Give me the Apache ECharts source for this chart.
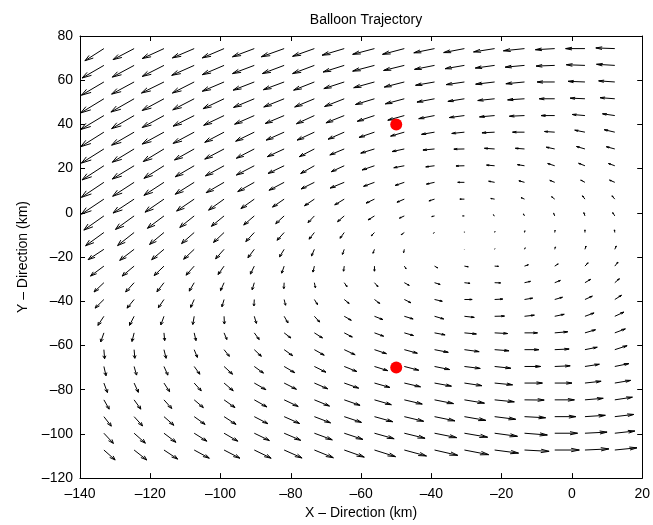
<!DOCTYPE html>
<html>
<head>
<meta charset="utf-8">
<script src="https://cdn.jsdelivr.net/npm/echarts@6/dist/echarts.min.js"></script>
<style>html,body{margin:0;padding:0;background:#fff}#c{width:653px;height:525px}</style>
</head>
<body>
<div id="c"></div>
<script>
// grid of arrow tails (km)
const xGrid = [-133.2,-124.6,-116.1,-107.5,-99.0,-90.4,-81.9,-73.3,-64.8,-56.2,-47.7,-39.1,-30.6,-22.0,-13.5,-4.9,3.7,12.2];
const yGrid = [74.3,66.7,59.2,51.6,44.0,36.5,28.9,21.3,13.8,6.2,-1.4,-8.9,-16.5,-24.1,-31.6,-39.2,-46.8,-54.3,-61.9,-69.5,-77.0,-84.6,-92.2,-99.7,-107.3];
// arrow x-components (km), one row per yGrid value
const U = [
[-5.4,-6.0,-6.2,-6.2,-6.2,-6.2,-6.5,-6.2,-6.3,-6.2,-6.2,-5.9,-5.9,-6.0,-6.0,-5.5,-5.5,-5.4],
[-6.2,-6.2,-6.2,-6.4,-6.2,-6.2,-6.2,-6.2,-6.0,-6.2,-5.9,-5.7,-5.5,-5.5,-5.5,-5.3,-5.3,-5.2],
[-6.4,-6.4,-6.4,-6.2,-6.2,-6.0,-5.9,-5.9,-5.8,-5.9,-5.7,-5.4,-5.2,-5.4,-5.3,-5.0,-4.8,-4.6],
[-6.6,-6.6,-6.2,-6.1,-6.0,-5.9,-5.8,-5.6,-5.6,-5.4,-5.4,-5.0,-4.7,-4.8,-4.8,-4.4,-4.2,-4.2],
[-6.6,-6.4,-6.2,-6.0,-5.8,-5.6,-5.4,-5.1,-5.2,-4.9,-4.7,-4.5,-4.3,-4.3,-4.3,-3.9,-3.6,-3.5],
[-6.6,-6.4,-6.2,-6.0,-5.5,-5.3,-5.1,-4.9,-4.6,-4.4,-3.9,-3.7,-3.6,-3.6,-3.4,-2.9,-2.9,-3.0],
[-6.4,-6.2,-5.9,-5.6,-5.5,-5.1,-4.8,-4.3,-4.1,-3.9,-3.5,-3.3,-3.0,-2.9,-2.6,-2.4,-2.4,-2.4],
[-6.2,-6.2,-5.7,-5.4,-5.3,-5.1,-4.6,-3.9,-3.7,-3.5,-3.0,-2.5,-2.4,-2.3,-2.0,-2.0,-1.8,-1.8],
[-6.4,-6.1,-5.7,-5.4,-5.1,-4.7,-4.3,-3.8,-4.0,-3.1,-2.6,-2.3,-1.9,-1.7,-1.6,-1.4,-1.2,-1.5],
[-6.4,-6.0,-5.4,-5.0,-4.4,-3.8,-3.3,-2.8,-2.7,-2.4,-2.1,-1.6,-1.3,-1.1,-1.0,-0.9,-0.7,-0.8],
[-5.7,-5.3,-4.7,-4.1,-3.6,-3.0,-2.4,-1.8,-1.9,-1.8,-1.4,-0.8,-0.5,-0.4,-0.3,-0.3,-0.3,-0.6],
[-5.2,-4.7,-4.1,-3.6,-3.0,-2.4,-2.0,-1.5,-1.2,-0.9,-0.9,-0.3,0.0,0.1,0.1,0.1,0.0,-0.1],
[-4.5,-4.1,-3.5,-3.0,-2.4,-1.8,-1.3,-0.8,-0.5,-0.4,-0.2,0.0,0.0,0.1,0.2,0.2,0.3,0.4],
[-3.8,-3.4,-2.8,-2.3,-1.7,-1.1,-0.7,-0.4,-0.2,0.0,0.5,0.9,1.1,1.1,1.1,1.0,0.9,0.9],
[-2.8,-2.4,-2.0,-1.4,-1.0,-0.6,-0.1,0.3,0.8,1.0,1.4,1.6,1.6,1.7,1.7,1.6,1.6,1.3],
[-2.5,-2.0,-1.6,-1.0,-0.6,-0.1,0.4,0.9,1.4,1.5,1.9,2.2,2.2,2.3,2.3,2.2,2.1,1.9],
[-1.7,-1.3,-0.9,-0.4,0.1,0.6,1.1,1.5,2.0,2.4,2.5,2.6,2.8,2.8,2.8,2.7,2.6,2.6],
[-0.9,-0.6,0.2,0.5,0.8,1.4,1.9,2.3,2.3,2.6,2.6,3.0,3.4,3.7,3.7,3.7,3.0,3.0],
[0.2,0.2,0.6,0.9,1.5,2.0,2.4,2.8,3.1,3.4,3.7,3.9,4.2,4.1,4.1,4.1,3.5,3.5],
[0.6,0.7,1.1,1.6,2.4,2.6,3.0,3.3,3.6,3.8,4.1,4.3,4.5,4.6,4.6,4.4,4.1,4.0],
[1.0,1.2,1.6,2.0,2.6,3.3,3.5,3.8,4.1,4.4,4.6,4.8,5.0,5.1,5.1,4.9,4.6,4.5],
[1.5,1.9,2.2,2.6,3.1,3.6,4.0,4.3,4.5,4.8,5.1,5.4,5.7,5.6,5.6,5.6,5.2,5.0],
[2.1,2.4,2.8,3.1,3.4,3.9,4.4,4.6,4.9,5.2,5.5,5.8,6.1,6.0,6.0,6.0,5.8,5.4],
[2.7,3.2,3.4,3.6,3.9,4.3,4.7,5.1,5.3,5.6,5.9,6.3,6.6,6.5,6.5,6.5,6.3,5.7],
[3.2,3.6,3.9,4.3,4.5,4.8,5.1,5.4,5.7,6.0,6.3,6.6,6.9,6.8,7.0,7.0,6.8,6.3]
];
// arrow y-components (km)
const V = [
[-5.5,-5.0,-4.5,-4.2,-4.2,-3.7,-3.7,-3.5,-3.0,-2.6,-2.6,-1.9,-1.8,-1.5,-1.0,-0.5,0.0,0.3],
[-5.7,-5.3,-5.0,-4.5,-4.2,-3.7,-3.7,-3.7,-3.0,-2.6,-2.3,-1.8,-1.5,-1.2,-0.8,-0.3,0.3,0.5],
[-6.0,-5.5,-5.0,-5.0,-4.2,-3.7,-3.5,-3.7,-3.0,-2.6,-2.3,-1.5,-1.2,-1.0,-0.8,0.0,0.3,0.5],
[-6.4,-6.0,-5.3,-5.0,-4.5,-3.9,-3.7,-3.7,-3.5,-2.6,-2.3,-1.5,-1.2,-0.8,-0.5,0.0,0.3,0.5],
[-6.3,-5.9,-5.4,-4.8,-4.4,-3.9,-3.6,-3.7,-3.3,-2.6,-2.1,-1.4,-0.9,-0.6,-0.3,0.0,0.5,0.8],
[-6.6,-5.9,-5.4,-5.1,-4.6,-4.1,-3.6,-3.6,-3.2,-2.4,-1.8,-1.0,-0.6,-0.3,0.0,0.3,0.9,1.1],
[-6.4,-6.0,-5.7,-5.0,-4.6,-4.2,-3.5,-3.5,-2.7,-1.9,-1.2,-0.5,-0.1,0.3,0.3,0.8,1.1,1.0],
[-6.4,-6.0,-5.7,-5.0,-4.6,-4.2,-3.5,-3.5,-2.7,-1.9,-0.9,-0.5,-0.1,0.3,0.5,1.0,1.1,1.0],
[-6.8,-6.3,-5.9,-5.4,-4.7,-4.2,-3.6,-3.0,-2.6,-1.8,-1.4,-0.8,0.0,0.5,0.7,0.9,1.0,1.0],
[-6.8,-6.3,-5.9,-5.4,-5.0,-4.3,-3.6,-3.0,-2.6,-1.8,-1.4,-0.8,0.0,0.3,0.7,1.1,1.5,1.5],
[-6.4,-6.1,-5.6,-5.2,-4.7,-4.1,-3.5,-3.0,-2.6,-1.8,-1.0,-0.3,0.0,0.5,0.9,1.2,1.5,1.5],
[-6.0,-5.9,-5.4,-5.0,-4.5,-4.1,-3.5,-3.0,-2.6,-1.5,-1.0,-0.3,0.3,0.5,0.8,1.0,1.2,1.2],
[-4.7,-5.0,-4.7,-4.5,-4.3,-3.8,-3.4,-3.0,-2.3,-1.8,-1.5,0.0,0.1,0.3,0.7,1.1,1.5,1.5],
[-4.5,-4.5,-4.3,-4.1,-3.8,-3.6,-3.2,-2.7,-2.3,-2.3,-1.2,-0.8,-0.3,-0.1,0.6,1.0,1.5,1.8],
[-4.2,-4.2,-4.1,-3.8,-3.6,-3.2,-2.7,-2.3,-1.8,-1.8,-1.2,-0.8,-0.3,-0.1,0.6,1.0,1.5,1.8],
[-3.9,-3.9,-3.7,-3.6,-3.3,-2.9,-2.6,-2.3,-1.8,-1.8,-1.5,-0.8,0.0,0.2,0.6,1.0,1.5,1.9],
[-4.1,-4.1,-3.9,-3.7,-3.5,-3.2,-3.0,-2.6,-1.8,-1.5,-1.2,-1.2,-0.5,0.1,0.5,0.9,1.5,1.9],
[-4.1,-3.9,-3.5,-3.5,-3.0,-3.0,-2.3,-2.3,-1.9,-1.5,-1.2,-0.9,-0.5,-0.3,0.0,0.5,1.4,1.8],
[-4.1,-3.9,-3.9,-3.5,-3.0,-3.0,-2.7,-2.5,-2.3,-1.8,-1.6,-1.2,-0.9,-0.5,0.0,0.3,1.1,1.8],
[-4.2,-3.9,-3.9,-3.5,-3.5,-3.0,-2.8,-2.6,-2.3,-1.9,-1.7,-1.4,-0.9,-0.8,0.0,0.3,1.0,1.3],
[-4.3,-4.2,-3.9,-3.5,-3.5,-3.0,-2.8,-2.6,-2.3,-2.0,-1.7,-1.4,-1.2,-0.8,0.0,0.0,0.8,1.2],
[-4.2,-4.2,-3.9,-3.5,-3.5,-3.2,-3.0,-2.8,-2.5,-2.2,-1.9,-1.7,-1.5,-0.9,-0.1,0.0,0.7,1.2],
[-4.3,-4.2,-3.9,-3.5,-3.5,-3.2,-3.1,-2.8,-2.6,-2.3,-2.1,-1.9,-1.7,-1.2,-0.5,0.0,0.6,1.0],
[-4.6,-4.5,-4.1,-3.6,-3.6,-3.3,-3.2,-3.0,-2.8,-2.5,-2.3,-2.0,-1.8,-1.4,-0.8,0.0,0.5,1.0],
[-4.5,-4.5,-4.1,-3.7,-3.7,-3.7,-3.6,-3.5,-3.2,-3.0,-2.7,-2.4,-2.1,-1.4,-0.6,0.0,0.5,1.0]
];
// balloon positions
const dotX = [-50, -50];
const dotY = [40, -70];

const xTicks = { min: -140, max: 20, interval: 20 };
const yTicks = { min: -120, max: 80, interval: 20 };

const arrows = [];
for (let r = 0; r < yGrid.length; r++) {
  for (let c = 0; c < xGrid.length; c++) {
    arrows.push([xGrid[c], yGrid[r], U[r][c], V[r][c]]);
  }
}

const FONT = 'Liberation Sans, Arial, Helvetica, sans-serif';
const fmt = v => String(v).replace('-', '\u2013');

const chart = echarts.init(document.getElementById('c'), null, { renderer: 'canvas' });
const axisCommon = {
  axisLine: { show: true, onZero: false, lineStyle: { color: '#000', width: 1 } },
  axisTick: { show: true, inside: true, length: 5, lineStyle: { color: '#000' } },
  splitLine: { show: false }
};
chart.setOption({
  animation: false,
  backgroundColor: '#fff',
  title: {
    text: 'Balloon Trajectory', left: 361, textAlign: 'center', top: 8,
    textStyle: { fontFamily: FONT, fontSize: 14, fontWeight: 'normal', color: '#000' }
  },
  grid: { left: 80, right: 10, top: 36, bottom: 46, containLabel: false },
  xAxis: [
    Object.assign({ type: 'value', position: 'bottom', min: xTicks.min, max: xTicks.max, interval: xTicks.interval,
      name: 'X \u2013 Direction (km)', nameLocation: 'middle', nameGap: 26,
      nameTextStyle: { fontFamily: FONT, fontSize: 14, color: '#000' },
      axisLabel: { formatter: fmt, fontFamily: FONT, fontSize: 14, color: '#000', margin: 9 } }, axisCommon),
    Object.assign({ type: 'value', position: 'top', min: xTicks.min, max: xTicks.max, interval: xTicks.interval,
      axisLabel: { show: false } }, axisCommon)
  ],
  yAxis: [
    Object.assign({ type: 'value', position: 'left', min: yTicks.min, max: yTicks.max, interval: yTicks.interval,
      name: 'Y \u2013 Direction (km)', nameLocation: 'middle', nameGap: 50, nameRotate: 90,
      nameTextStyle: { fontFamily: FONT, fontSize: 14, color: '#000' },
      axisLabel: { formatter: fmt, fontFamily: FONT, fontSize: 14, color: '#000', margin: 7 } }, axisCommon),
    Object.assign({ type: 'value', position: 'right', min: yTicks.min, max: yTicks.max, interval: yTicks.interval,
      axisLabel: { show: false } }, axisCommon)
  ],
  series: [
    {
      type: 'custom',
      xAxisIndex: 0, yAxisIndex: 0,
      data: arrows,
      clip: false,
      renderItem: function (params, api) {
        const x = api.value(0), y = api.value(1), u = api.value(2), v = api.value(3);
        const a = 0.33, b = 0.33;
        const tip = [x + u, y + v];
        const h1 = [x + u - a * (u + b * v), y + v - a * (v - b * u)];
        const h2 = [x + u - a * (u - b * v), y + v - a * (v + b * u)];
        const p0 = api.coord([x, y]), p1 = api.coord(tip);
        const q1 = api.coord(h1), q2 = api.coord(h2);
        const st = { stroke: '#000', lineWidth: 1, fill: null };
        return {
          type: 'group',
          children: [
            { type: 'polyline', shape: { points: [p0, p1] }, style: st },
            { type: 'polyline', shape: { points: [q1, p1, q2] }, style: st }
          ]
        };
      }
    },
    {
      type: 'scatter',
      data: dotX.map((x, i) => [x, dotY[i]]),
      symbol: 'circle', symbolSize: 12,
      itemStyle: { color: '#ff0000', opacity: 1 },
      z: 5
    }
  ]
});
</script>
</body>
</html>
